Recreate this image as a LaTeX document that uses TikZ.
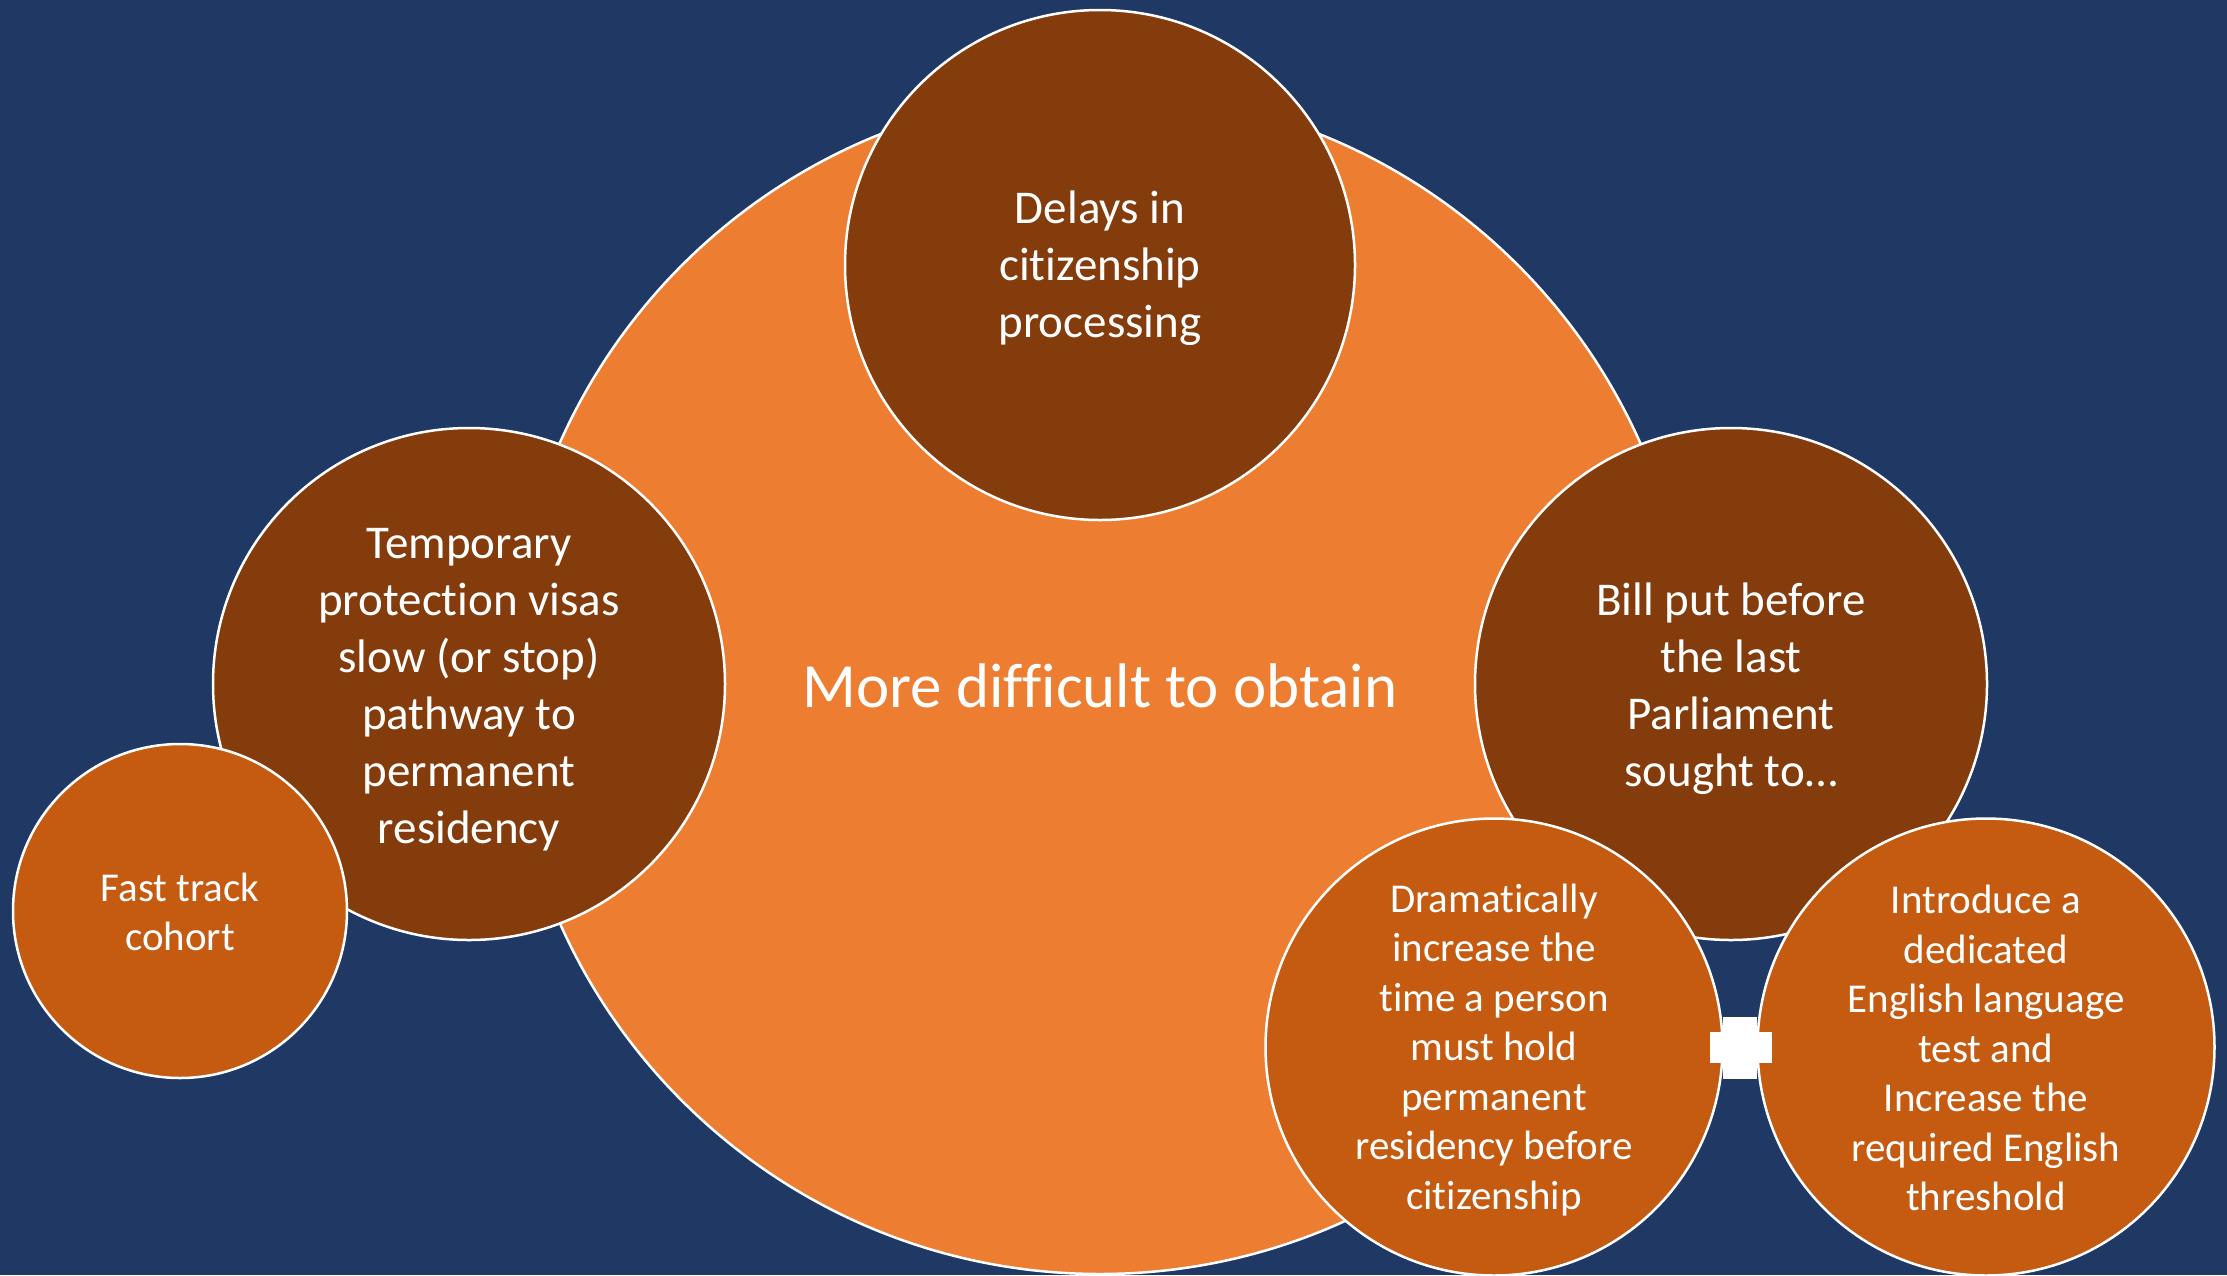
\documentclass[tikz,border=0pt]{standalone}
\usepackage{fontspec}
\setmainfont{Carlito}[Ligatures=NoCommon]
\definecolor{bgblue}{HTML}{1F3864}
\definecolor{bigorange}{HTML}{ED7D31}
\definecolor{darkbrown}{HTML}{843C0C}
\definecolor{midorange}{HTML}{C55A11}
\begin{document}
\begin{tikzpicture}[x=1pt,y=-1pt,
  bubble/.style={circle,draw=white,line width=2.5pt,inner sep=0pt},
  txt/.style={text=white,align=center,inner sep=0pt},
  bigtext/.style={txt,font=\fontsize{63}{76}\selectfont},
  midtext/.style={txt,font=\fontsize{47}{57}\selectfont},
  smalltext/.style={txt,font=\fontsize{41}{49.5}\selectfont}]
\fill[bgblue] (0,0) rectangle (2227,1275);
\useasboundingbox (0,0) rectangle (2227,1275);
% big circle
\node[bubble,fill=bigorange,minimum size=1182pt] (big) at (1100,683) {};
\node[bigtext] (bigt) at (1100,686) {More difficult to obtain};
% top
\node[bubble,fill=darkbrown,minimum size=510pt] (delays) at (1100,265) {};
\node[midtext] (delayst) at (1100,268) {Delays in\\citizenship\\processing};
% left
\node[bubble,fill=darkbrown,minimum size=512pt] (temp) at (469,684) {};
\node[midtext] (tempt) at (469,690)
  {Temporary\\protection visas\\slow (or stop)\\pathway to\\permanent\\residency};
% right
\node[bubble,fill=darkbrown,minimum size=512pt] (bill) at (1731,684) {};
\node[midtext] (billt) at (1731,689)
  {Bill put before\\the last\\Parliament\\sought to\dots};
% fast track
\node[bubble,fill=midorange,minimum size=334pt] (fast) at (180,911) {};
\node[smalltext] (fastt) at (180,912) {Fast track\\cohort};
% dramatically
\node[bubble,fill=midorange,minimum size=457pt] (dram) at (1494,1047) {};
\node[smalltext] (dramt) at (1494,1050)
  {Dramatically\\increase the\\time a person\\must hold\\permanent\\residency before\\citizenship};
% introduce
\node[bubble,fill=midorange,minimum size=457pt] (intro) at (1986,1047) {};
\node[smalltext] (introt) at (1986,1048)
  {Introduce a\\dedicated\\English language\\test and\\Increase the\\required English\\threshold};
% plus sign
\fill[white] (1710,1032) rectangle (1772,1063);
\fill[white] (1723,1017) rectangle (1757,1079);
\end{tikzpicture}
\end{document}
